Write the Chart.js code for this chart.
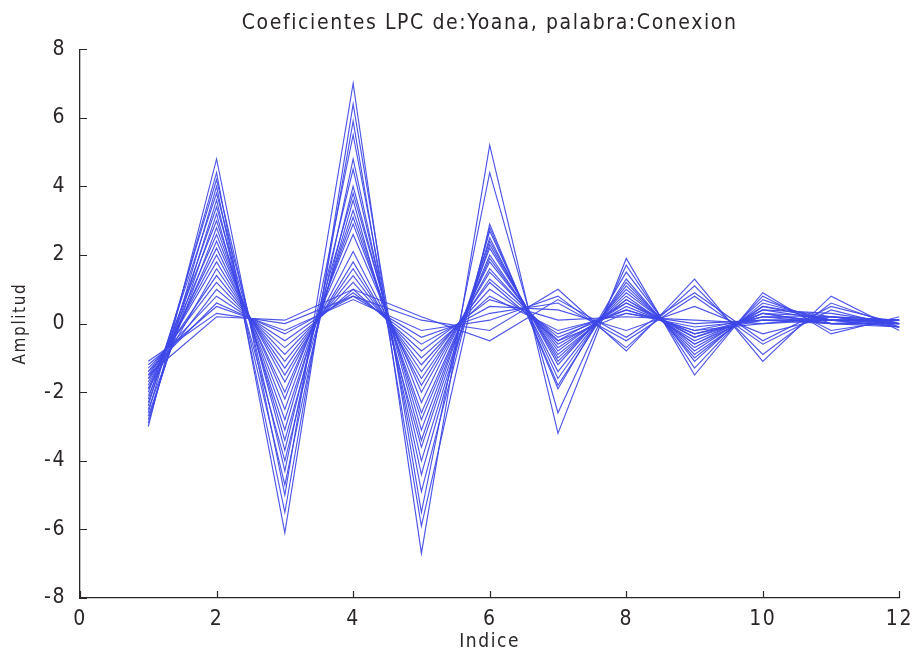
<!DOCTYPE html>
<html>
<head>
<meta charset="utf-8">
<script src="https://cdn.jsdelivr.net/npm/chart.js@4/dist/chart.umd.min.js"></script>
<style>
  html, body { margin: 0; padding: 0; background: #ffffff; }
  #wrap { width: 914px; height: 653px; }
</style>
</head>
<body>
<div id="wrap"><canvas id="c" width="914" height="653"></canvas></div>
<script>
// LPC coefficient index (order 12)
const indices = [1, 2, 3, 4, 5, 6, 7, 8, 9, 10, 11, 12];

// One LPC coefficient vector per analysis frame of the word "Conexion"
const frame01 = [-3.0, 4.8, -5.0, 7.0, -6.7, 5.2, -3.2, 1.9, -1.5, 0.9, -0.3, 0.2];
const frame02 = [-2.6, 4.4, -6.1, 6.4, -5.5, 4.4, -2.6, 1.7, -1.3, 0.8, -0.2, 0.1];
const frame03 = [-2.9, 4.0, -5.5, 5.9, -5.9, 2.9, -1.9, 1.5, -1.1, 0.7, 0.0, 0.1];
const frame04 = [-2.4, 4.2, -4.3, 5.5, -4.9, 2.8, -1.8, 1.3, -1.0, 0.6, 0.1, 0.0];
const frame05 = [-2.8, 3.6, -4.7, 4.8, -4.4, 2.7, -1.6, 1.2, -0.9, 0.5, 0.1, 0.1];
const frame06 = [-2.2, 3.8, -3.7, 4.5, -4.0, 2.5, -1.4, 1.1, -0.8, 0.5, 0.2, -0.1];
const frame07 = [-2.7, 3.2, -4.0, 4.0, -3.4, 2.4, -1.2, 1.0, -0.7, 0.4, 0.3, 0.0];
const frame08 = [-2.3, 3.4, -3.4, 3.6, -3.6, 2.3, -1.1, 0.9, -0.6, 0.3, 0.2, 0.1];
const frame09 = [-2.0, 3.0, -3.1, 3.8, -3.1, 2.2, -1.0, 0.8, -0.6, 0.4, 0.1, -0.1];
const frame10 = [-2.5, 2.8, -2.8, 3.3, -2.8, 2.0, -0.9, 0.7, -0.5, 0.3, 0.0, 0.0];
const frame11 = [-1.9, 2.6, -2.5, 3.1, -2.6, 1.9, -0.8, 0.7, -0.4, 0.2, 0.1, 0.1];
const frame12 = [-2.1, 2.4, -2.2, 2.9, -2.3, 1.8, -0.7, 0.6, -0.4, 0.3, 0.0, -0.1];
const frame13 = [-1.8, 2.2, -2.0, 2.6, -2.0, 1.6, -0.6, 0.5, -0.3, 0.2, 0.2, 0.0];
const frame14 = [-1.7, 2.0, -1.7, 2.1, -1.8, 1.5, -0.5, 0.6, -0.3, 0.1, 0.1, 0.1];
const frame15 = [-1.6, 1.8, -1.5, 1.8, -1.6, 1.3, -0.4, 0.4, -0.2, 0.2, 0.0, 0.0];
const frame16 = [-1.9, 1.6, -1.3, 1.6, -1.4, 1.2, -0.5, 0.3, -0.1, 0.1, 0.1, -0.1];
const frame17 = [-1.5, 1.4, -1.1, 1.4, -1.2, 1.0, -0.3, 0.4, -0.2, 0.0, 0.2, 0.1];
const frame18 = [-1.4, 1.2, -0.9, 1.2, -1.0, 0.8, -0.2, 0.3, 0.0, 0.1, 0.0, 0.0];
const frame19 = [-1.6, 1.0, -0.7, 1.0, -0.8, 0.7, 0.1, 0.2, 0.1, 0.0, 0.1, 0.1];
const frame20 = [-1.3, 0.8, -0.5, 0.9, -0.6, 0.5, 0.4, -0.2, 0.5, -0.3, 0.2, 0.0];
const frame21 = [-1.4, 0.6, -0.3, 0.8, -0.4, 0.3, 0.6, -0.5, 0.8, -0.6, 0.4, -0.1];
const frame22 = [-1.2, 0.5, -0.2, 0.7, -0.2, 0.1, 0.8, -0.7, 1.1, -0.9, 0.6, -0.1];
const frame23 = [-1.1, 0.3, 0.0, 0.8, 0.1, -0.2, 1.0, -0.8, 1.3, -1.1, 0.8, -0.2];
const frame24 = [-1.5, 0.2, 0.1, 1.0, 0.2, -0.5, 0.7, -0.4, 0.9, -0.5, 0.5, 0.0];

const frames = [frame01, frame02, frame03, frame04, frame05, frame06, frame07, frame08,
                frame09, frame10, frame11, frame12, frame13, frame14, frame15, frame16,
                frame17, frame18, frame19, frame20, frame21, frame22, frame23, frame24];

// Axis tick values
const xTicks = [0, 2, 4, 6, 8, 10, 12];
const yTicks = [-8, -6, -4, -2, 0, 2, 4, 6, 8];

const FONT = "'Liberation Sans Narrow', 'DejaVu Sans Condensed', 'Liberation Sans', sans-serif";
const INK = '#2b2626';
const LINE = 'rgba(62, 72, 232, 0.92)';

const datasets = frames.map((vals, i) => ({
  label: 'Trama ' + (i + 1),
  data: vals.map((v, k) => ({ x: indices[k], y: v })),
  borderColor: LINE,
  borderWidth: 1.15,
  pointRadius: 0,
  fill: false,
  tension: 0
}));

// Slightly spaced lettering for every text on the canvas
const spacedText = {
  id: 'spacedText',
  beforeUpdate(chart) { chart.ctx.letterSpacing = '1.6px'; },
  beforeDraw(chart) { chart.ctx.letterSpacing = '1.6px'; }
};

// Short tick marks pointing into the plot area
const innerTicks = {
  id: 'innerTicks',
  afterDraw(chart) {
    const { ctx, chartArea: a, scales } = chart;
    ctx.save();
    ctx.strokeStyle = INK;
    ctx.lineWidth = 1.2;
    ctx.beginPath();
    xTicks.forEach(v => {
      const px = Math.round(scales.x.getPixelForValue(v)) + 0.5;
      ctx.moveTo(px, a.bottom);
      ctx.lineTo(px, a.bottom - 7);
    });
    yTicks.forEach(v => {
      const py = Math.round(scales.y.getPixelForValue(v)) + 0.5;
      ctx.moveTo(a.left, py);
      ctx.lineTo(a.left + 7, py);
    });
    ctx.stroke();
    ctx.restore();
  }
};

new Chart(document.getElementById('c'), {
  type: 'line',
  data: { datasets },
  options: {
    responsive: false,
    animation: false,
    layout: { padding: { left: 0, right: 14, top: 0, bottom: 0 } },
    plugins: {
      legend: { display: false },
      tooltip: { enabled: false },
      title: {
        display: true,
        fullSize: false,
        text: 'Coeficientes LPC de:Yoana, palabra:Conexion',
        color: INK,
        font: { family: FONT, size: 21, weight: 'normal' },
        padding: { top: 11, bottom: 13 }
      }
    },
    scales: {
      x: {
        type: 'linear',
        min: 0,
        max: 12,
        afterBuildTicks: s => { s.ticks = xTicks.map(v => ({ value: v })); },
        afterFit: s => { s.height = 55; },
        grid: { display: false },
        border: { display: true, color: INK, width: 1.3 },
        ticks: { color: INK, font: { family: FONT, size: 21 }, padding: 1, maxRotation: 0 },
        title: {
          display: true, text: 'Indice', color: INK,
          font: { family: FONT, size: 19 }, padding: { top: 0, bottom: 0 }
        }
      },
      y: {
        type: 'linear',
        min: -8,
        max: 8,
        afterBuildTicks: s => { s.ticks = yTicks.map(v => ({ value: v })); },
        afterFit: s => { s.width = 80; },
        grid: { display: false },
        border: { display: true, color: INK, width: 1.3 },
        ticks: { color: INK, font: { family: FONT, size: 21 }, padding: 6 },
        title: {
          display: true, text: 'Amplitud', color: INK,
          font: { family: FONT, size: 17 }, padding: { top: 10, bottom: 4 }
        }
      }
    }
  },
  plugins: [spacedText, innerTicks]
});
</script>
</body>
</html>
